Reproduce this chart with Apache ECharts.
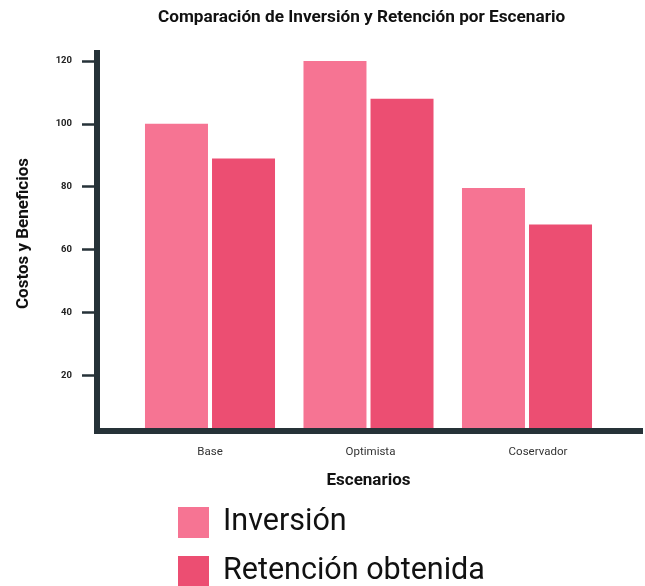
<!DOCTYPE html>
<html>
<head>
<meta charset="utf-8">
<script src="https://cdn.jsdelivr.net/npm/echarts@6/dist/echarts.min.js"></script>
<style>
  html, body { margin: 0; padding: 0; background: #ffffff; }
  #chart { width: 645px; height: 586px; }
</style>
</head>
<body>
<div id="chart"></div>
<script>
// Scenario categories and the two measured series
const escenarios = ['Base', 'Optimista', 'Coservador'];
const inversion = [100, 120, 79.6];
const retencion = [89, 108, 68];
const yTicks = [20, 40, 60, 80, 100, 120];
const seriesNames = ['Inversión', 'Retención obtenida'];

const AXIS_COLOR = '#263238';
const FONT = 'Roboto, "Noto Sans", sans-serif';
const Y_MIN = 3.25;
const Y_MAX = 123.5;

const chart = echarts.init(document.getElementById('chart'), null, { renderer: 'canvas' });

// one legend block per series, stacked as a column under the chart
function legendBlock(name, top) {
  return {
    orient: 'vertical',
    left: 178,
    top: top,
    padding: 0,
    icon: 'rect',
    itemWidth: 31,
    itemHeight: 31,
    textStyle: {
      fontFamily: FONT, fontSize: 30.5, color: '#111111',
      lineHeight: 31, padding: [12, 0, 0, 9]
    },
    data: [name]
  };
}

chart.setOption({
  backgroundColor: '#ffffff',
  animation: false,
  title: {
    text: 'Comparación de Inversión y Retención por Escenario',
    left: 158,
    top: 9,
    padding: 0,
    textStyle: { fontFamily: FONT, fontSize: 17.2, fontWeight: 'bold', color: '#111111' }
  },
  legend: [
    legendBlock(seriesNames[0], 501),
    legendBlock(seriesNames[1], 550)
  ],
  grid: [
    // frame grid: carries the axis lines, ticks and y labels
    { left: 97, right: 5, top: 50, bottom: 158 },
    // plotting grid for the grouped bars
    { left: 130.75, right: 38.75, top: 50, bottom: 158 }
  ],
  xAxis: [
    {
      gridIndex: 0, type: 'value', min: 0, max: 1, offset: 3,
      axisLine: { show: true, lineStyle: { color: AXIS_COLOR, width: 6, cap: 'square' } },
      axisTick: { show: false }, axisLabel: { show: false }, splitLine: { show: false }
    },
    {
      gridIndex: 1, type: 'category', data: escenarios,
      axisLine: { show: false }, axisTick: { show: false },
      axisLabel: {
        margin: 18, fontFamily: FONT, fontSize: 11.5, color: '#333333',
        formatter: function (v, i) { return '{c' + i + '|' + v + '}'; },
        rich: {
          c0: { fontFamily: FONT, fontSize: 11.5, color: '#333333' },
          c1: { fontFamily: FONT, fontSize: 11.5, color: '#333333', padding: [0, 0, 0, 4] },
          c2: { fontFamily: FONT, fontSize: 11.5, color: '#333333', padding: [0, 0, 0, 22] }
        }
      },
      name: 'Escenarios',
      nameLocation: 'middle',
      nameGap: 44,
      nameTextStyle: { fontFamily: FONT, fontSize: 17, fontWeight: 'bold', color: '#111111' }
    }
  ],
  yAxis: [
    {
      gridIndex: 0, type: 'value', min: Y_MIN, max: Y_MAX,
      axisLine: { show: true, lineStyle: { color: AXIS_COLOR, width: 6, cap: 'butt' } },
      axisTick: {
        show: true, length: 15, customValues: yTicks,
        lineStyle: { color: AXIS_COLOR, width: 2.5 }
      },
      axisLabel: {
        customValues: yTicks, margin: 25,
        fontFamily: FONT, fontSize: 9.5, fontWeight: 'bold', color: '#222222'
      },
      splitLine: { show: false },
      name: 'Costos y Beneficios',
      nameLocation: 'middle',
      nameRotate: 90,
      nameGap: 65,
      nameTextStyle: {
        fontFamily: FONT, fontSize: 17, fontWeight: 'bold', color: '#111111',
        padding: [0, 0, 0, 11]
      }
    },
    {
      gridIndex: 1, type: 'value', min: Y_MIN, max: Y_MAX, show: false,
      splitLine: { show: false }
    }
  ],
  series: [
    {
      name: seriesNames[0], type: 'bar', xAxisIndex: 1, yAxisIndex: 1,
      data: inversion, barWidth: 63, barGap: '6.4%',
      itemStyle: { color: '#F67493' }
    },
    {
      name: seriesNames[1], type: 'bar', xAxisIndex: 1, yAxisIndex: 1,
      data: retencion, barWidth: 63, barGap: '6.4%',
      itemStyle: { color: '#EC4E72' }
    }
  ]
});
</script>
</body>
</html>
